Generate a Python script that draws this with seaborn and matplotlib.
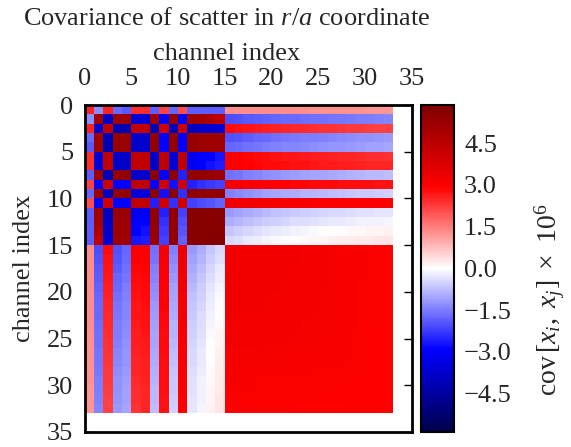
import numpy as np
import pandas as pd
import matplotlib
matplotlib.use("Agg")
import matplotlib.pyplot as plt
import seaborn as sns

# Channel indices: 0-14 form the first group, 15-32 the second group
n_first = 15
n_second = 18

# Covariance (x 1e6) within the first channel group, rows/cols 0..14
block_first = [
    [2.55, -1.30, 2.55, -1.70, -1.90, 2.40, 2.40, -1.85, 2.20, -1.75, 2.05, -1.85, -1.85, -1.85, -1.85],
    [-1.30, 5.12, -3.77, 5.12, 5.12, -3.60, -3.60, 5.20, -2.93, 5.30, -2.93, 5.10, 5.00, 4.75, 4.40],
    [2.55, -3.77, 4.38, -4.16, -4.16, 4.30, 4.30, -4.16, 4.01, -4.00, 4.01, -4.00, -3.77, -3.77, -3.55],
    [-1.70, 5.12, -4.16, 5.30, 5.30, -3.77, -3.77, 5.45, -2.93, 5.40, -2.93, 5.30, 5.20, 5.15, 5.10],
    [-1.90, 5.12, -4.16, 5.30, 5.30, -3.77, -3.77, 5.45, -2.93, 5.40, -2.93, 5.30, 5.20, 5.15, 5.10],
    [2.40, -3.60, 4.30, -3.77, -3.77, 4.38, 4.38, -3.77, 4.38, -3.55, 4.38, -3.21, -2.93, -2.93, -2.70],
    [2.40, -3.60, 4.30, -3.77, -3.77, 4.38, 4.38, -3.77, 4.38, -3.55, 4.38, -3.10, -2.90, -2.75, -2.60],
    [-1.85, 5.20, -4.16, 5.45, 5.45, -3.77, -3.77, 5.60, -2.93, 5.60, -2.56, 5.45, 5.40, 5.28, 5.20],
    [2.20, -2.93, 4.01, -2.93, -2.93, 4.38, 4.38, -2.93, 4.01, -2.75, 4.01, -2.56, -2.38, -2.25, -2.20],
    [-1.75, 5.30, -4.00, 5.40, 5.40, -3.55, -3.55, 5.60, -2.75, 5.60, -2.38, 5.50, 5.45, 5.45, 5.45],
    [2.05, -2.93, 4.01, -2.93, -2.93, 4.38, 4.38, -2.56, 4.01, -2.38, 4.01, -2.20, -2.05, -1.95, -1.83],
    [-1.85, 5.10, -4.00, 5.30, 5.30, -3.21, -3.10, 5.45, -2.56, 5.50, -2.20, 5.65, 5.65, 5.65, 5.65],
    [-1.85, 5.00, -3.77, 5.20, 5.20, -2.93, -2.90, 5.40, -2.38, 5.45, -2.05, 5.65, 5.65, 5.65, 5.65],
    [-1.85, 4.75, -3.77, 5.15, 5.15, -2.93, -2.75, 5.28, -2.25, 5.45, -1.95, 5.65, 5.65, 5.70, 5.70],
    [-1.85, 4.40, -3.55, 5.10, 5.10, -2.70, -2.60, 5.20, -2.20, 5.45, -1.83, 5.65, 5.65, 5.70, 5.75],
]

# Cross covariance: first-group rows 0..14 against second-group cols 15..32
block_cross = [
    [1.32, 1.32, 1.31, 1.31, 1.30, 1.30, 1.30, 1.29, 1.29, 1.28, 1.28, 1.27, 1.26, 1.25, 1.24, 1.23, 1.22, 1.20],
    [-2.05, -2.00, -1.92, -1.85, -1.80, -1.76, -1.73, -1.70, -1.67, -1.64, -1.61, -1.58, -1.56, -1.53, -1.50, -1.48, -1.45, -1.42],
    [2.80, 2.75, 2.68, 2.62, 2.58, 2.54, 2.50, 2.47, 2.44, 2.41, 2.38, 2.35, 2.32, 2.29, 2.26, 2.23, 2.20, 2.17],
    [-2.00, -1.93, -1.85, -1.77, -1.71, -1.65, -1.60, -1.55, -1.51, -1.47, -1.43, -1.39, -1.35, -1.31, -1.28, -1.24, -1.21, -1.18],
    [-1.78, -1.72, -1.64, -1.57, -1.51, -1.46, -1.42, -1.38, -1.34, -1.30, -1.27, -1.23, -1.20, -1.17, -1.13, -1.10, -1.07, -1.04],
    [3.02, 2.95, 2.88, 2.82, 2.77, 2.73, 2.69, 2.66, 2.63, 2.60, 2.57, 2.54, 2.51, 2.49, 2.46, 2.43, 2.41, 2.38],
    [3.02, 2.98, 2.93, 2.88, 2.84, 2.80, 2.77, 2.74, 2.71, 2.68, 2.65, 2.62, 2.60, 2.57, 2.55, 2.52, 2.50, 2.48],
    [-1.65, -1.56, -1.46, -1.38, -1.31, -1.25, -1.19, -1.14, -1.09, -1.05, -1.01, -0.97, -0.93, -0.89, -0.85, -0.82, -0.78, -0.75],
    [3.15, 3.10, 3.05, 3.00, 2.96, 2.93, 2.90, 2.88, 2.86, 2.84, 2.82, 2.81, 2.79, 2.78, 2.77, 2.76, 2.75, 2.74],
    [-1.45, -1.36, -1.25, -1.16, -1.08, -1.02, -0.97, -0.92, -0.87, -0.83, -0.79, -0.75, -0.71, -0.68, -0.64, -0.61, -0.58, -0.55],
    [3.32, 3.28, 3.24, 3.20, 3.17, 3.14, 3.12, 3.10, 3.08, 3.06, 3.05, 3.03, 3.02, 3.01, 3.00, 2.99, 2.98, 2.97],
    [-1.18, -1.08, -0.97, -0.88, -0.80, -0.73, -0.67, -0.62, -0.57, -0.53, -0.49, -0.45, -0.42, -0.39, -0.36, -0.34, -0.31, -0.29],
    [-0.95, -0.86, -0.75, -0.66, -0.58, -0.52, -0.46, -0.41, -0.37, -0.33, -0.29, -0.26, -0.23, -0.20, -0.18, -0.16, -0.14, -0.12],
    [-0.65, -0.57, -0.47, -0.38, -0.31, -0.25, -0.19, -0.14, -0.10, -0.06, -0.03, 0.00, 0.03, 0.05, 0.08, 0.10, 0.12, 0.14],
    [-0.45, -0.37, -0.27, -0.19, -0.12, -0.06, -0.01, 0.03, 0.07, 0.10, 0.13, 0.16, 0.19, 0.21, 0.24, 0.26, 0.28, 0.30],
]

# Covariance within the second channel group, rows/cols 15..32
block_second = [
    [3.25, 3.25, 3.25, 3.24, 3.24, 3.23, 3.23, 3.22, 3.21, 3.20, 3.18, 3.16, 3.14, 3.11, 3.08, 3.05, 3.02, 3.00],
    [3.25, 3.25, 3.25, 3.24, 3.24, 3.23, 3.23, 3.22, 3.21, 3.20, 3.18, 3.16, 3.14, 3.11, 3.08, 3.05, 3.02, 3.00],
    [3.25, 3.25, 3.24, 3.24, 3.23, 3.23, 3.22, 3.21, 3.20, 3.19, 3.17, 3.15, 3.13, 3.10, 3.08, 3.05, 3.02, 3.00],
    [3.24, 3.24, 3.24, 3.23, 3.23, 3.22, 3.22, 3.21, 3.20, 3.19, 3.17, 3.15, 3.13, 3.10, 3.07, 3.04, 3.02, 3.00],
    [3.24, 3.24, 3.23, 3.23, 3.22, 3.22, 3.21, 3.20, 3.19, 3.18, 3.16, 3.14, 3.12, 3.10, 3.07, 3.04, 3.01, 2.99],
    [3.23, 3.23, 3.23, 3.22, 3.22, 3.21, 3.20, 3.19, 3.18, 3.17, 3.16, 3.14, 3.12, 3.09, 3.07, 3.04, 3.01, 2.99],
    [3.23, 3.23, 3.22, 3.22, 3.21, 3.20, 3.20, 3.19, 3.18, 3.17, 3.15, 3.13, 3.11, 3.09, 3.06, 3.03, 3.01, 2.99],
    [3.22, 3.22, 3.21, 3.21, 3.20, 3.19, 3.19, 3.18, 3.17, 3.16, 3.14, 3.13, 3.11, 3.08, 3.06, 3.03, 3.01, 2.98],
    [3.21, 3.21, 3.20, 3.20, 3.19, 3.18, 3.18, 3.17, 3.16, 3.15, 3.14, 3.12, 3.10, 3.08, 3.05, 3.03, 3.00, 2.98],
    [3.20, 3.20, 3.19, 3.19, 3.18, 3.17, 3.17, 3.16, 3.15, 3.14, 3.13, 3.11, 3.10, 3.07, 3.05, 3.02, 3.00, 2.98],
    [3.18, 3.18, 3.17, 3.17, 3.16, 3.16, 3.15, 3.14, 3.14, 3.13, 3.12, 3.10, 3.09, 3.07, 3.04, 3.02, 3.00, 2.98],
    [3.16, 3.16, 3.15, 3.15, 3.14, 3.14, 3.13, 3.13, 3.12, 3.12, 3.10, 3.09, 3.08, 3.06, 3.04, 3.02, 2.99, 2.97],
    [3.14, 3.14, 3.13, 3.13, 3.12, 3.12, 3.11, 3.11, 3.10, 3.10, 3.09, 3.08, 3.07, 3.05, 3.03, 3.01, 2.99, 2.97],
    [3.11, 3.11, 3.10, 3.10, 3.10, 3.09, 3.09, 3.08, 3.08, 3.07, 3.07, 3.06, 3.05, 3.04, 3.02, 3.00, 2.98, 2.97],
    [3.08, 3.08, 3.08, 3.07, 3.07, 3.07, 3.06, 3.06, 3.05, 3.05, 3.04, 3.04, 3.03, 3.02, 3.01, 2.99, 2.98, 2.96],
    [3.05, 3.05, 3.05, 3.04, 3.04, 3.04, 3.03, 3.03, 3.03, 3.02, 3.02, 3.01, 3.01, 3.00, 2.99, 2.98, 2.97, 2.96],
    [3.02, 3.02, 3.02, 3.02, 3.01, 3.01, 3.01, 3.01, 3.00, 3.00, 3.00, 2.99, 2.99, 2.98, 2.98, 2.97, 2.96, 2.95],
    [3.00, 3.00, 3.00, 2.99, 2.99, 2.99, 2.99, 2.98, 2.98, 2.98, 2.98, 2.97, 2.97, 2.97, 2.96, 2.96, 2.95, 2.95],
]

axis_ticks = [0, 5, 10, 15, 20, 25, 30, 35]
cbar_ticks = [-4.5, -3.0, -1.5, 0.0, 1.5, 3.0, 4.5]
color_limit = 5.87

# Assemble the full symmetric covariance matrix
cross = np.array(block_cross)
cov = np.block([[np.array(block_first), cross],
                [cross.T, np.array(block_second)]])
channels = np.arange(n_first + n_second)
cov_df = pd.DataFrame(cov, index=channels, columns=channels)

sns.set_theme(style="white")
plt.rcParams["font.family"] = ["Liberation Serif", "DejaVu Serif"]
plt.rcParams["mathtext.fontset"] = "custom"
plt.rcParams["mathtext.rm"] = "Liberation Serif"
plt.rcParams["mathtext.it"] = "Liberation Serif:italic"
plt.rcParams["mathtext.bf"] = "Liberation Serif:bold"

W, H = 571, 447
fig = plt.figure(figsize=(W / 100, H / 100), dpi=100)
ax = fig.add_axes([84.5 / W, 1 - 432 / H, 327.2 / W, 327 / H])
cax = fig.add_axes([421 / W, 1 - 431.7 / H, 33.3 / W, 326.7 / H])

sns.heatmap(cov_df, ax=ax, cbar_ax=cax, cmap="seismic",
            vmin=-color_limit, vmax=color_limit,
            xticklabels=False, yticklabels=False)

fs = 19
ax.set_xlim(0, 35)
ax.set_ylim(35, 0)
ax.set_xticks(axis_ticks)
ax.set_yticks(axis_ticks)
ax.set_xticklabels([str(t) for t in axis_ticks], fontsize=fs)
ax.set_yticklabels([str(t) for t in axis_ticks], fontsize=fs, rotation=0)
ax.tick_params(axis="x", which="both", direction="in", top=True, bottom=False,
               labeltop=True, labelbottom=False, length=6, width=1, color="black", pad=11)
ax.tick_params(axis="y", which="both", direction="in", left=True, right=True,
               labelleft=True, labelright=False, length=6, width=1, color="black", pad=8)
for s in ax.spines.values():
    s.set_visible(True)
    s.set_color("black")
    s.set_linewidth(2)

ax.set_ylabel("channel index", fontsize=fs)
ax.set_xlabel("channel index", fontsize=fs)
ax.xaxis.set_label_position("top")
ax.xaxis.set_label_coords((227 - 84.5) / 327.2, (432 - 60) / 327)
ax.yaxis.set_label_coords(-(84.5 - 35) / 327.2, 0.5)

fig.text(227 / W, 1 - 19 / H, r"Covariance of scatter in $r/a$ coordinate",
         ha="center", va="center", fontsize=fs)

cbar = ax.collections[0].colorbar
cbar.set_ticks(cbar_ticks)
cbar.set_ticklabels([f"{t:.1f}".replace("-", "\u2212") for t in cbar_ticks])
cbar.ax.tick_params(direction="in", length=6, width=1, labelsize=fs, color="black", right=True, pad=7)
cbar.outline.set_visible(True)
cbar.outline.set_edgecolor("black")
cbar.outline.set_linewidth(1.5)
cbar.set_label(r"cov$\,[x_i,\ x_j]\ \times\ 10^6$", fontsize=20)
cbar.ax.yaxis.set_label_coords((533 - 421) / 33.3, (431.7 - 300) / 326.7)

fig.savefig("out.png", dpi=100)
